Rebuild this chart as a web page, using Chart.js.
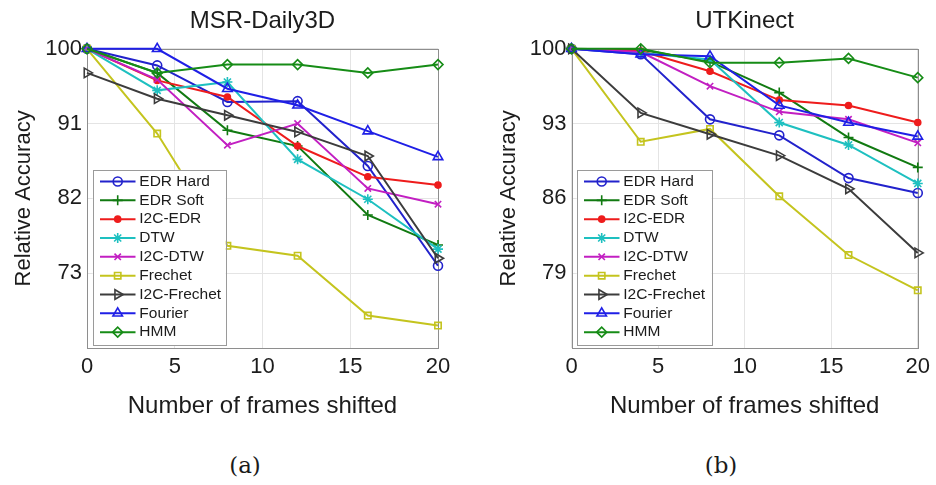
<!DOCTYPE html>
<html lang="en">

<head>
    <meta charset="UTF-8">
    <title>Relative accuracy vs frames shifted</title>
    <script src="https://cdn.jsdelivr.net/npm/chart.js@4.4.1/dist/chart.umd.min.js"></script>
    <style>
        body { margin: 0; background: #fff; }
        #wrap { position: relative; width: 936px; height: 485px; }
        canvas { position: absolute; top: 0; }
        .cap { position: absolute; top: 452px; width: 60px; text-align: center;
               font: 23px "DejaVu Serif", "Liberation Serif", serif; color: #1a1a1a; }
    </style>
</head>

<body>
    <div id="wrap">
        <canvas id="msr" width="468" height="440" style="left:0"></canvas>
        <canvas id="utk" width="468" height="440" style="left:468px"></canvas>
        <div class="cap" style="left:215px">(a)</div>
        <div class="cap" style="left:691px">(b)</div>
    </div>
    <script>
        // data
        const xShift = [0, 4, 8, 12, 16, 20];
        const xTicks = [0, 5, 10, 15, 20];
        const seriesNames = ['EDR Hard', 'EDR Soft', 'I2C-EDR', 'DTW', 'I2C-DTW',
            'Frechet', 'I2C-Frechet', 'Fourier', 'HMM'];

        // MSR-Daily3D
        const msrTicks = [73, 82, 91, 100];
        const msrEdrHard = [100, 98.0, 93.6, 93.7, 85.9, 73.9];
        const msrEdrSoft = [100, 97.1, 90.2, 88.3, 80.0, 76.4];
        const msrI2cEdr = [100, 96.2, 94.2, 88.3, 84.6, 83.6];
        const msrDtw = [100, 95.0, 96.0, 86.7, 81.9, 75.9];
        const msrI2cDtw = [100, 96.3, 88.4, 91.0, 83.2, 81.3];
        const msrFrechet = [100, 89.8, 76.3, 75.1, 67.9, 66.7];
        const msrI2cFrechet = [97.1, 94.0, 92.0, 90.0, 87.1, 74.8];
        const msrFourier = [100, 100, 95.2, 93.2, 90.1, 87.0];
        const msrHmm = [100, 97.1, 98.1, 98.1, 97.1, 98.1];

        // UTKinect
        const utkTicks = [79, 86, 93, 100];
        const utkEdrHard = [100, 99.5, 93.4, 91.9, 87.9, 86.5];
        const utkEdrSoft = [100, 99.9, 98.8, 95.9, 91.7, 88.9];
        const utkI2cEdr = [100, 99.8, 97.9, 95.2, 94.7, 93.1];
        const utkDtw = [100, 99.6, 99.0, 93.1, 91.0, 87.4];
        const utkI2cDtw = [100, 99.7, 96.5, 94.1, 93.4, 91.2];
        const utkFrechet = [100, 91.3, 92.5, 86.2, 80.7, 77.4];
        const utkI2cFrechet = [100, 94.0, 92.0, 90.0, 86.9, 80.9];
        const utkFourier = [100, 99.5, 99.3, 94.7, 93.1, 91.8];
        const utkHmm = [100, 100, 98.7, 98.7, 99.1, 97.3];

        // line / marker looks, same order as seriesNames
        const looks = [
            { color: '#2222cc', style: 'circle', r: 4.5, fill: 'rgba(0,0,0,0)' },
            { color: '#117a11', style: 'cross', r: 5, fill: 'rgba(0,0,0,0)' },
            { color: '#ee1c1c', style: 'circle', r: 3, fill: '#ee1c1c' },
            { color: '#1ec0c0', style: 'star', r: 5, fill: 'rgba(0,0,0,0)' },
            { color: '#c21fc2', style: 'crossRot', r: 4.5, fill: 'rgba(0,0,0,0)' },
            { color: '#c4c41e', style: 'rect', r: 4.5, fill: 'rgba(0,0,0,0)' },
            { color: '#3c3c3c', style: 'triangle', r: 5.5, fill: 'rgba(0,0,0,0)', rot: 90 },
            { color: '#1f1fe6', style: 'triangle', r: 5.5, fill: 'rgba(0,0,0,0)' },
            { color: '#168c16', style: 'rectRot', r: 5, fill: 'rgba(0,0,0,0)' }
        ];

        const sans = '"Liberation Sans", Arial, Helvetica, sans-serif';
        const ink = '#1c1c1c';

        function makeSets(lists) {
            return lists.map(function (vals, i) {
                const lk = looks[i];
                return {
                    label: seriesNames[i],
                    data: xShift.map((x, k) => ({ x: x, y: vals[k] })),
                    borderColor: lk.color,
                    borderWidth: 2,
                    pointStyle: lk.style,
                    pointRadius: lk.r,
                    pointRotation: lk.rot || 0,
                    pointBorderWidth: 1.6,
                    pointBackgroundColor: lk.fill,
                    pointBorderColor: lk.color,
                    clip: false,
                    order: -i
                };
            });
        }

        // grey box round the plot area
        const frameBox = {
            id: 'frameBox',
            beforeDatasetsDraw(chart) {
                const a = chart.chartArea, ctx = chart.ctx;
                ctx.save();
                ctx.strokeStyle = '#8e8e8e';
                ctx.lineWidth = 1;
                ctx.strokeRect(Math.round(a.left) + 0.5, Math.round(a.top) + 0.5,
                    Math.round(a.right - a.left), Math.round(a.bottom - a.top));
                ctx.restore();
            }
        };

        // legend box inside the plot, lower left
        const boxLegend = {
            id: 'boxLegend',
            afterDatasetsDraw(chart, args, opts) {
                const a = chart.chartArea, ctx = chart.ctx;
                const x0 = a.left + opts.dx, y0 = a.top + 121;
                const w = opts.w, h = a.bottom - 3 - y0;
                ctx.save();
                ctx.fillStyle = '#fff';
                ctx.fillRect(x0, y0, w, h);
                ctx.strokeStyle = '#9a9a9a';
                ctx.lineWidth = 1;
                ctx.strokeRect(Math.round(x0) + 0.5, Math.round(y0) + 0.5, Math.round(w), Math.round(h));
                ctx.font = '15.5px ' + sans;
                ctx.textBaseline = 'middle';
                chart.data.datasets.forEach(function (ds, i) {
                    const y = y0 + 11.7 + i * 18.83;
                    ctx.strokeStyle = ds.borderColor;
                    ctx.lineWidth = 2;
                    ctx.beginPath();
                    ctx.moveTo(x0 + 7.3, y);
                    ctx.lineTo(x0 + 42.8, y);
                    ctx.stroke();
                    ctx.fillStyle = ds.pointBackgroundColor;
                    ctx.lineWidth = ds.pointBorderWidth;
                    Chart.helpers.drawPoint(ctx, {
                        pointStyle: ds.pointStyle, rotation: ds.pointRotation,
                        radius: ds.pointRadius, borderWidth: ds.pointBorderWidth
                    }, x0 + 25, y);
                    ctx.fillStyle = ink;
                    ctx.fillText(ds.label, x0 + 46.6, y);
                });
                ctx.restore();
            }
        };

        function makeChart(id, title, lists, yMin, yTicks, yWidth, yTitlePad, padRight, legendDx, legendW) {
            const ctx = document.getElementById(id).getContext('2d');
            return new Chart(ctx, {
                type: 'line',
                data: { datasets: makeSets(lists) },
                plugins: [frameBox, boxLegend],
                options: {
                    responsive: false,
                    animation: false,
                    layout: { padding: { left: 0, right: padRight, top: 0, bottom: 0 } },
                    plugins: {
                        legend: { display: false },
                        tooltip: { enabled: false },
                        title: {
                            display: true, text: title, fullSize: false, color: ink,
                            font: { size: 24, family: sans, weight: 'normal' },
                            padding: { top: 7, bottom: 13 }
                        },
                        boxLegend: { dx: legendDx, w: legendW }
                    },
                    scales: {
                        x: {
                            type: 'linear', min: 0, max: 20,
                            afterBuildTicks: s => { s.ticks = xTicks.map(v => ({ value: v })); },
                            afterFit: s => { s.height = 92; },
                            grid: { color: '#e4e4e4', drawTicks: false },
                            border: { display: false },
                            ticks: { color: ink, font: { size: 22, family: sans }, padding: 6, maxRotation: 0, autoSkip: false },
                            title: {
                                display: true, text: 'Number of frames shifted', color: ink,
                                font: { size: 24, family: sans }, padding: { top: 0, bottom: 19.6 }
                            }
                        },
                        y: {
                            min: yMin, max: 100,
                            afterBuildTicks: s => { s.ticks = yTicks.map(v => ({ value: v })); },
                            afterFit: s => { s.width = yWidth; },
                            grid: { color: '#e4e4e4', drawTicks: false },
                            border: { display: false },
                            ticks: { color: ink, font: { size: 22, family: sans }, padding: 5 },
                            title: {
                                display: true, text: 'Relative Accuracy', color: ink,
                                font: { size: 22, family: sans }, padding: { top: yTitlePad, bottom: 0 }
                            }
                        }
                    }
                }
            });
        }

        makeChart('msr', 'MSR-Daily3D',
            [msrEdrHard, msrEdrSoft, msrI2cEdr, msrDtw, msrI2cDtw, msrFrechet, msrI2cFrechet, msrFourier, msrHmm],
            64, msrTicks, 87, 10.8, 30, 5.7, 133);

        makeChart('utk', 'UTKinect',
            [utkEdrHard, utkEdrSoft, utkI2cEdr, utkDtw, utkI2cDtw, utkFrechet, utkI2cFrechet, utkFourier, utkHmm],
            72, utkTicks, 103.5, 27.8, 13.3, 5.2, 135);
    </script>
</body>

</html>
